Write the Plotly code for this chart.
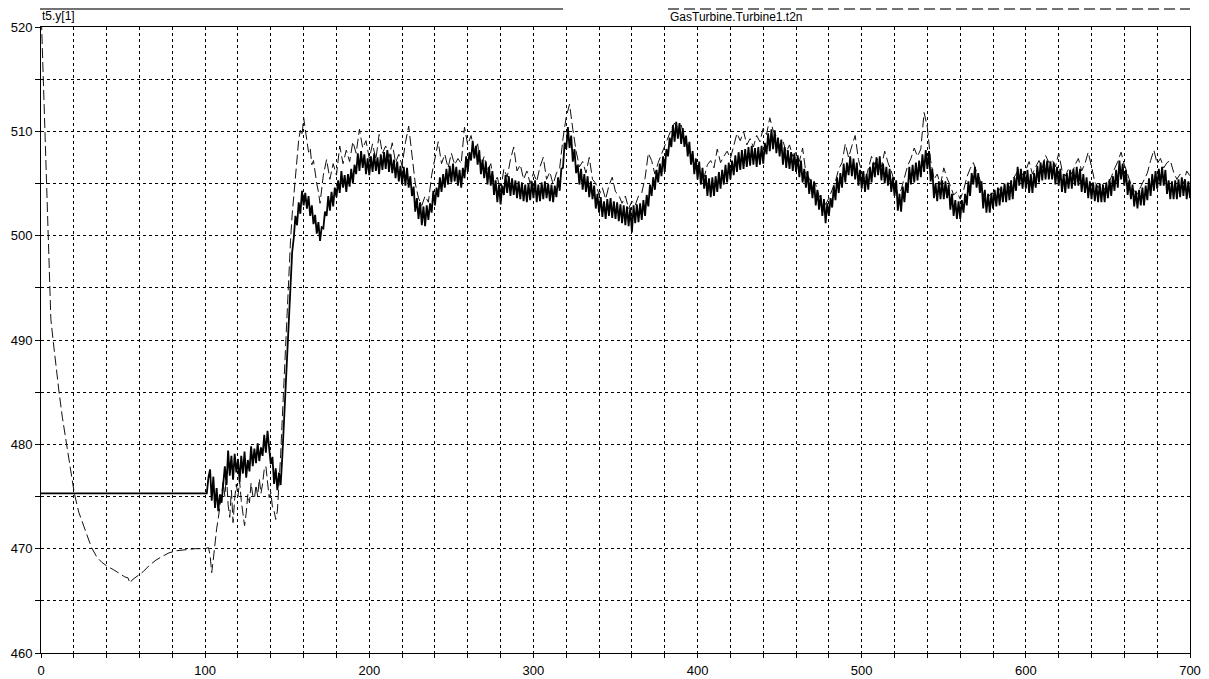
import plotly.graph_objects as go

# ---------------- data ----------------
solid_name = "t5.y[1]"
dashed_name = "GasTurbine.Turbine1.t2n"

# t5.y[1]: flat part, then sampled every 1 s from 102 to 700
solid_flat_t = [0, 101]
solid_flat_v = [475.3, 475.3]
solid_start = 102
solid_v = [
    476.8, 477.6, 474.6, 476.9, 473.9, 475.8, 473.6, 475.2,
    474.4, 476.2, 477.9, 476.1, 479.4, 477.0, 478.9, 476.6, 479.1, 477.3,
    478.6, 476.4, 478.9, 477.2, 479.3, 476.8, 478.5, 477.4, 479.8, 477.9,
    479.6, 478.2, 480.1, 478.4, 479.7, 478.9, 480.9, 479.2, 481.3, 479.6,
    478.1, 478.8, 476.2, 477.7, 475.6, 477.3, 476.1, 478.8, 482.1, 485.7,
    489.8, 493.2, 495.9, 498.4, 499.8, 501.9, 501.0, 503.2, 502.1, 504.3,
    502.9, 504.1, 502.6, 503.8, 501.9, 502.9, 501.1, 502.0, 500.2, 501.3,
    499.5, 500.8, 500.7, 502.3, 501.9, 503.8, 502.4, 504.2, 502.8, 504.6,
    503.7, 505.3, 504.1, 506.2, 504.6, 505.8, 504.2, 505.9, 504.7, 506.4,
    505.0, 506.8, 505.9, 507.9, 506.2, 508.1, 506.5, 507.8, 505.9, 507.4,
    505.8, 507.6, 506.1, 507.9, 506.2, 507.5, 505.9, 507.8, 506.3, 508.0,
    506.4, 508.2, 506.1, 507.8, 506.0, 507.3, 505.5, 507.1, 505.2, 506.7,
    504.9, 506.6, 504.8, 506.5, 504.6, 505.7, 503.8, 504.7, 502.3, 503.6,
    501.6, 503.2, 501.0, 502.8, 500.9, 502.9, 501.5, 503.1, 502.2, 504.3,
    502.9, 504.6, 503.7, 505.6, 504.2, 505.9, 504.6, 506.4, 504.9, 506.7,
    505.1, 506.9, 505.2, 506.6, 504.8, 506.3, 504.6, 506.5, 505.5, 507.6,
    506.1, 508.0, 507.2, 509.1, 507.4, 508.6, 506.8, 508.2, 505.9, 507.3,
    505.5, 507.1, 504.9, 506.6, 504.8, 506.2, 503.9, 505.3, 503.2, 504.9,
    503.0, 504.8, 503.9, 505.8, 504.1, 505.7, 503.8, 505.5, 503.9, 505.3,
    503.6, 505.2, 503.5, 505.1, 503.3, 504.9, 503.2, 505.0, 503.4, 505.2,
    503.6, 505.3, 503.2, 504.9, 503.3, 505.1, 503.5, 505.2, 503.6, 505.0,
    503.3, 504.9, 503.2, 504.8, 503.7, 505.6, 504.3, 506.4, 506.5, 508.9,
    508.3, 510.4, 508.4, 509.6, 507.1, 508.3, 506.0, 506.8, 504.9, 506.4,
    504.4, 505.9, 504.2, 505.7, 503.7, 505.2, 503.5, 504.8, 502.6, 504.0,
    502.2, 503.7, 501.8, 503.3, 501.6, 503.5, 501.9, 503.6, 501.7, 503.3,
    501.6, 503.2, 501.4, 503.0, 501.2, 502.9, 501.0, 502.8, 500.9, 502.7,
    500.3, 502.9, 501.2, 503.0, 501.3, 503.1, 501.5, 503.4, 501.9, 503.9,
    502.8, 504.9, 503.8, 505.6, 504.4, 506.3, 505.1, 506.9, 505.7, 507.6,
    506.1, 508.3, 507.6, 509.4, 508.5, 510.6, 509.0, 510.9, 509.3, 510.8,
    508.8, 510.3, 508.5, 509.6, 507.6, 509.0, 506.8, 508.1, 505.9, 507.4,
    505.4, 507.1, 504.9, 506.5, 504.5, 505.8, 503.8, 505.5, 503.7, 505.6,
    503.8, 505.7, 504.2, 506.1, 504.5, 506.3, 504.9, 506.8, 505.1, 507.0,
    505.4, 507.2, 505.8, 507.7, 506.1, 508.0, 506.3, 508.2, 506.4, 508.3,
    506.6, 508.5, 506.7, 508.6, 506.8, 508.4, 506.6, 508.5, 506.8, 508.6,
    506.9, 508.9, 507.8, 509.8, 508.1, 510.2, 508.3, 510.1, 507.9, 509.4,
    507.6, 509.2, 506.8, 508.5, 506.5, 508.2, 506.4, 508.0, 506.2, 507.9,
    506.1, 507.7, 505.6, 507.2, 505.1, 506.4, 504.6, 506.2, 504.0, 505.4,
    503.6, 505.2, 502.9, 504.4, 502.5, 503.9, 501.9, 503.5, 501.2, 503.1,
    501.9, 503.6, 502.7, 504.8, 503.4, 505.6, 504.1, 506.0, 504.6, 506.9,
    505.1, 507.0, 505.8, 507.6, 505.7, 507.4, 505.4, 507.0, 504.8, 506.3,
    504.5, 506.2, 504.2, 505.9, 504.4, 506.6, 505.1, 507.0, 505.6, 507.5,
    505.8, 507.6, 505.3, 506.9, 505.0, 506.6, 504.8, 506.4, 504.2, 505.6,
    503.8, 505.3, 502.4, 504.0, 502.3, 504.7, 503.2, 505.1, 504.1, 506.6,
    504.9, 506.8, 505.1, 507.0, 505.3, 507.2, 505.6, 507.8, 506.1, 508.2,
    506.4, 508.1, 505.2, 506.4, 503.6, 505.0, 503.3, 505.2, 503.5, 505.3,
    503.5, 505.2, 503.6, 504.9, 502.5, 504.0, 501.9, 503.4, 501.6, 503.3,
    501.6, 503.4, 502.2, 504.0, 502.9, 505.2, 503.8, 506.0, 504.9, 506.6,
    504.6, 506.0, 504.1, 505.2, 502.6, 504.4, 502.2, 504.0, 502.2, 504.1,
    502.6, 504.4, 502.8, 504.6, 502.9, 504.7, 503.2, 505.0, 503.2, 505.1,
    503.4, 505.3, 503.5, 505.6, 504.3, 506.6, 504.8, 506.4, 504.5, 506.2,
    504.5, 506.3, 504.1, 505.9, 504.1, 506.0, 504.6, 506.7, 505.1, 507.0,
    505.3, 507.2, 505.4, 507.2, 505.4, 507.1, 505.4, 507.0, 504.9, 506.6,
    504.8, 506.4, 504.2, 505.9, 504.1, 506.0, 504.5, 506.3, 504.5, 506.4,
    504.8, 506.6, 504.8, 506.4, 504.2, 505.9, 504.1, 505.6, 503.6, 505.2,
    503.5, 505.1, 503.3, 504.9, 503.2, 505.0, 503.2, 504.9, 503.2, 505.1,
    503.6, 505.4, 503.8, 505.7, 504.3, 506.3, 504.6, 507.2, 505.4, 506.9,
    504.8, 506.3, 503.9, 505.3, 503.5, 504.9, 502.8, 504.3, 502.6, 504.4,
    502.9, 504.6, 502.9, 504.8, 503.4, 505.5, 503.8, 505.9, 504.3, 506.2,
    504.5, 506.4, 504.8, 506.6, 504.8, 506.3, 504.0, 505.3, 503.5, 505.2,
    503.5, 505.3, 503.5, 505.4, 503.7, 505.6, 503.8, 505.4, 503.5, 505.2,
    503.6,
]

# GasTurbine.Turbine1.t2n: irregular samples up to 169 s, then every 2 s
dashed_early_t = [
    0, 1, 2, 3, 4, 5, 6, 7.5, 9, 11, 13, 15.6, 18, 20.3, 23, 25.5, 27.8,
    30.8, 34, 37, 40.4, 44, 48, 51, 53, 54.2, 55.5, 58, 62.3, 66, 70, 74.4,
    78, 82.6, 88, 94, 100, 102, 103, 104, 105, 106, 107, 108, 109,
    110, 111, 112, 113, 114, 115, 116, 117, 118, 119,
    120, 121, 122, 123, 124, 125, 126, 127, 128, 129,
    130, 131, 132, 133, 134, 135, 136, 137, 138, 139,
    140, 141, 142, 143, 144, 145, 146, 147, 148, 149,
    150, 151, 152, 153, 154, 155, 156, 157, 158, 159,
    160, 161, 162, 163, 164, 165, 166, 167, 168, 169,
]
dashed_early_v = [
    522.0, 517.0, 512.0, 505.5, 499.8, 495.5, 492.0, 489.8, 487.5, 485.0,
    482.6, 480.0, 477.5, 475.3, 473.5, 472.3, 471.4, 470.1, 469.2, 468.7,
    468.3, 468.0, 467.6, 467.3, 467.2, 466.7, 467.0, 467.3, 467.8, 468.4,
    468.9, 469.3, 469.6, 469.8, 469.9, 470.0, 470.0, 470.1, 469.4, 467.7,
    469.0, 470.8, 471.9, 472.9, 474.0,
    475.1, 476.4, 475.0, 477.0, 474.2, 473.0, 475.6, 472.5, 474.8, 476.2,
    475.0, 476.5, 474.6, 473.5, 472.2, 473.4, 475.2, 474.4, 476.3, 475.1,
    474.8, 476.1, 475.0, 476.7, 475.3, 476.2, 477.6, 477.9, 476.0, 474.9,
    475.4, 474.0, 473.6, 472.8, 473.6, 476.0, 479.0, 482.5, 486.0, 490.0,
    493.5, 496.8, 499.5, 502.0, 504.0, 506.0, 507.6, 509.2, 510.1, 509.6,
    511.3, 510.2, 509.3, 508.0, 508.4, 506.8, 507.2, 505.9, 505.0, 504.2,
]
dashed_start = 170
dashed_step = 2
dashed_v = [
    503.1, 505.8, 507.3, 505.4, 506.9, 505.8, 508.6, 506.9, 508.2, 507.1,
    509.0, 507.9, 510.2, 508.4, 509.1, 507.4, 508.8, 507.3, 509.7, 507.9,
    508.6, 507.5, 508.9, 507.0, 507.8, 506.7, 508.9, 510.5, 507.4, 505.0,
    503.6, 502.9, 503.8, 503.2, 505.8, 507.6, 509.0, 506.9, 507.8, 506.5,
    507.9, 506.8, 507.4, 506.9, 510.4, 508.7, 509.6, 508.0, 508.8, 506.6,
    507.6, 506.2, 506.9, 505.1, 505.6, 504.3, 506.4, 505.6, 507.3, 508.5,
    506.2, 506.8, 505.4, 506.2, 505.0, 506.0, 505.2, 506.6, 507.5, 505.4,
    506.1, 504.9, 506.0, 506.5, 509.3, 511.4, 512.6, 510.2, 508.1, 506.6,
    507.1, 506.0, 507.5, 505.4, 505.0, 503.9, 504.6, 503.5, 504.8, 505.6,
    504.2, 503.9, 503.1, 503.8, 502.6, 503.3, 502.9, 503.8, 504.1, 505.5,
    507.9, 507.2, 505.9, 507.0, 507.8, 508.5, 509.4, 510.2, 510.8, 510.3,
    510.6, 509.4, 508.6, 507.7, 507.1, 506.5, 506.0, 505.6, 506.8, 507.2,
    506.5, 508.3, 507.0, 507.6, 508.1, 507.4, 508.6, 509.8, 509.1, 510.0,
    508.7, 509.3, 508.5, 509.6, 509.0, 510.3, 509.7, 511.3, 510.1, 509.5,
    508.6, 509.1, 508.0, 508.7, 507.6, 508.0, 507.1, 508.4, 506.0, 505.5,
    504.6, 504.9, 503.8, 503.4, 503.0, 503.6, 504.5, 505.2, 506.4, 507.0,
    508.8, 507.5, 508.6, 509.6, 507.3, 506.1, 505.2, 506.3, 507.6, 506.8,
    507.4, 506.6, 508.1, 507.0, 506.2, 505.1, 504.0, 504.4, 505.6, 506.7,
    507.4, 508.4, 507.6, 508.3, 511.8, 510.4, 507.2, 505.4, 505.9, 504.9,
    506.5, 505.5, 504.8, 503.9, 504.2, 503.5, 504.3, 505.6, 506.4, 507.0,
    506.1, 505.4, 504.0, 503.5, 503.9, 504.1, 503.6, 504.5, 504.0, 505.0,
    504.6, 505.4, 505.9, 506.5, 505.8, 506.3, 507.1, 505.9, 506.6, 507.2,
    506.5, 507.7, 507.0, 507.3, 506.6, 507.9, 506.3, 505.7, 506.4, 505.9,
    506.8, 507.4, 506.2, 506.9, 508.0, 506.5, 505.2, 504.6, 505.1, 504.4,
    505.0, 505.6, 506.4, 507.1, 508.0, 506.8, 505.9, 504.9, 504.3, 504.0,
    504.7, 505.3, 506.0, 507.2, 508.2, 506.9, 507.4, 506.5, 507.0, 507.2,
    506.1, 505.4, 505.9, 505.0, 506.2, 505.7,
]

x_range = [0, 700]
y_range = [460, 520]
x_tick_vals = list(range(0, 701, 20))
x_tick_labels = ["0", "100", "200", "300", "400", "500", "600", "700"]
y_tick_vals = list(range(460, 521, 5))
y_tick_labels = ["460", "470", "480", "490", "500", "510", "520"]

# ---------------- build ----------------
solid_t = solid_flat_t + list(range(solid_start, solid_start + len(solid_v)))
solid_y = solid_flat_v + solid_v
dashed_t = dashed_early_t + list(range(dashed_start, dashed_start + dashed_step * len(dashed_v), dashed_step))
dashed_y = dashed_early_v + dashed_v

x_text = [x_tick_labels[v // 100] if v % 100 == 0 else "" for v in x_tick_vals]
y_text = [y_tick_labels[(v - 460) // 10] if v % 10 == 0 else "" for v in y_tick_vals]

# the page body adds an 8 px offset; work in screen pixels
OFF = 8
SCR_W, SCR_H = 1209, 679
W, H = SCR_W - OFF, SCR_H - OFF
plot_left, plot_right, plot_top, plot_bottom = 41, 1190, 27, 653
L = plot_left - OFF
T = plot_top - OFF
R = W - (plot_right - OFF)
B = H - (plot_bottom - OFF)
pw, ph = W - L - R, H - T - B


def px(x):
    return (x - plot_left) / pw


def py(y):
    return (plot_bottom - y) / ph


fig = go.Figure()
fig.add_trace(go.Scatter(
    x=dashed_t, y=dashed_y, mode="lines", name=dashed_name,
    line=dict(color="#111111", width=1, dash="10px,4px"),
))
fig.add_trace(go.Scatter(
    x=solid_t, y=solid_y, mode="lines", name=solid_name,
    line=dict(color="#000000", width=1.8),
))

font = dict(family="Liberation Sans, Arial, sans-serif", size=13, color="#000000")

fig.update_layout(
    width=W, height=H,
    margin=dict(l=L, r=R, t=T, b=B, pad=0, autoexpand=False),
    paper_bgcolor="white", plot_bgcolor="white",
    showlegend=False,
    font=font,
    xaxis=dict(
        range=x_range, tickmode="array", tickvals=x_tick_vals, ticktext=x_text,
        showgrid=True, gridcolor="#000000", griddash="3px,3px", gridwidth=1,
        showline=True, linecolor="#000000", linewidth=1, mirror=True,
        ticks="outside", ticklen=4, tickcolor="#000000", zeroline=False,
        tickfont=font, automargin=False, ticklabelstandoff=1,
    ),
    yaxis=dict(
        range=y_range, tickmode="array", tickvals=y_tick_vals, ticktext=y_text,
        showgrid=True, gridcolor="#000000", griddash="3px,3px", gridwidth=1,
        showline=True, linecolor="#000000", linewidth=1, mirror=True,
        ticks="outside", ticklen=5, tickcolor="#000000", zeroline=False,
        tickfont=font, automargin=False,
    ),
)

# legend drawn as in the reference: line above, label below
fig.add_shape(type="line", xref="paper", yref="paper",
              x0=px(40), x1=px(563), y0=py(9), y1=py(9),
              line=dict(color="#444444", width=1.5))
fig.add_shape(type="line", xref="paper", yref="paper",
              x0=px(668), x1=px(1190), y0=py(9), y1=py(9),
              line=dict(color="#444444", width=1.5, dash="11px,5px"))
fig.add_annotation(text=solid_name, xref="paper", yref="paper",
                   x=px(40), y=py(16), xanchor="left", yanchor="middle",
                   showarrow=False, font=dict(family=font["family"], size=12, color="#000"))
fig.add_annotation(text=dashed_name, xref="paper", yref="paper",
                   x=px(668), y=py(17), xanchor="left", yanchor="middle",
                   showarrow=False, font=dict(family=font["family"], size=12, color="#000"))

fig.write_html("out.html")
